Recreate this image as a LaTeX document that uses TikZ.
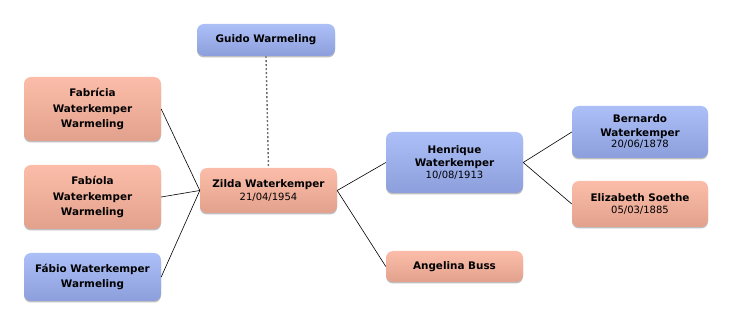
\documentclass[tikz,border=0pt]{standalone}
\usepackage{fontspec}
\setmainfont{DejaVu Sans}
\usetikzlibrary{shadows}
\definecolor{salmonTop}{HTML}{FBBDA9}
\definecolor{salmonBot}{HTML}{E2A18D}
\definecolor{blueTop}{HTML}{ACBFF7}
\definecolor{blueBot}{HTML}{8C9FDC}
\tikzset{
  person/.style={rounded corners=7pt, align=center, inner sep=2pt,
    font=\fontsize{10.4}{15.5}\selectfont\bfseries, text=black,
    drop shadow={shadow xshift=0pt, shadow yshift=-1.5pt, opacity=0.25, fill=black}},
  female/.style={person, top color=salmonTop, bottom color=salmonBot},
  male/.style={person, top color=blueTop, bottom color=blueBot},
  link/.style={draw=black, line width=0.6pt},
  spouse/.style={draw=gray!85!black, line width=1.4pt, dash pattern=on 2pt off 2pt}
}
\newcommand{\dt}[1]{{\mdseries\fontsize{10}{12}\selectfont #1}}
\begin{document}
\begin{tikzpicture}[x=1pt,y=-1pt]
\useasboundingbox (0,0) rectangle (732,326);
\node[male, minimum width=138pt, minimum height=32pt] (guido) at (266,40) {Guido Warmeling};
\node[female, minimum width=137pt, minimum height=64pt] (fabricia) at (92.5,109) {Fabrícia\\Waterkemper\\Warmeling};
\node[female, minimum width=137pt, minimum height=64pt] (fabiola) at (92.5,197) {Fabíola\\Waterkemper\\Warmeling};
\node[male, minimum width=137pt, minimum height=48pt] (fabio) at (92.5,277) {Fábio Waterkemper\\Warmeling};
\node[female, minimum width=137pt, minimum height=45pt] (zilda) at (268.5,190.5) {Zilda Waterkemper\\[-3pt]\dt{21/04/1954}};
\node[male, minimum width=137pt, minimum height=61pt] (henrique) at (454.5,162.5) {Henrique\\[-2pt]Waterkemper\\[-4pt]\dt{10/08/1913}};
\node[female, minimum width=137pt, minimum height=31pt] (angelina) at (454.5,266.5) {Angelina Buss};
\node[male, minimum width=136pt, minimum height=52pt] (bernardo) at (640,132) {Bernardo\\[-2pt]Waterkemper\\[-4pt]\dt{20/06/1878}};
\node[female, minimum width=136pt, minimum height=46pt] (elizabeth) at (640,204) {Elizabeth Soethe\\[-3pt]\dt{05/03/1885}};
\draw[spouse] (guido.south) -- (zilda.north);
\draw[link] (fabricia.east) -- (zilda.west);
\draw[link] (fabiola.east) -- (zilda.west);
\draw[link] (fabio.east) -- (zilda.west);
\draw[link] (zilda.east) -- (henrique.west);
\draw[link] (zilda.east) -- (angelina.west);
\draw[link] (henrique.east) -- (bernardo.west);
\draw[link] (henrique.east) -- (elizabeth.west);
\end{tikzpicture}
\end{document}
